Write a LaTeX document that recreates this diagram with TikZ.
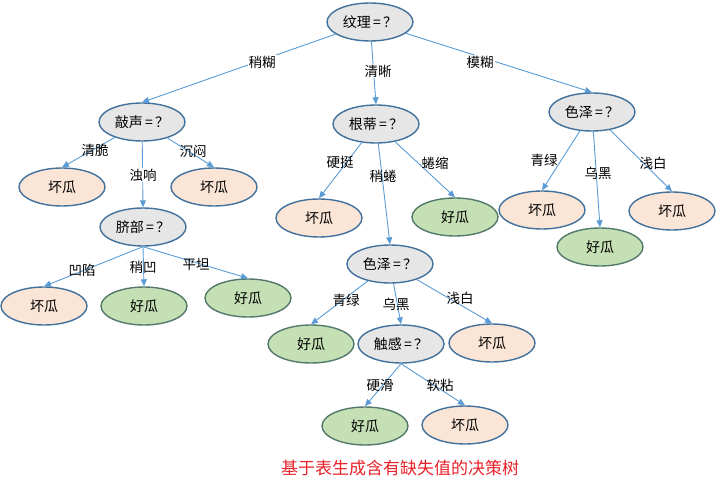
\documentclass[tikz,border=0pt]{standalone}
\usepackage{fontspec}
\setmainfont{Noto Sans CJK SC}
\usetikzlibrary{shapes.geometric,arrows.meta}

\definecolor{askfill}{HTML}{E7E6E6}
\definecolor{askline}{HTML}{41719C}
\definecolor{badfill}{HTML}{FBE5D6}
\definecolor{goodfill}{HTML}{C5E0B4}
\definecolor{goodline}{HTML}{53796C}
\definecolor{edgeblue}{HTML}{5B9BD5}
\definecolor{titlered}{HTML}{E8222A}

\tikzset{
 ask/.style={ellipse,draw=askline,line width=1.4pt,fill=askfill,
   minimum width=86pt,minimum height=38pt,inner sep=0pt,
   font=\fontsize{14}{14}\selectfont},
 bad/.style={ask,fill=badfill},
 good/.style={ask,fill=goodfill,draw=goodline},
 branch/.style={-{Triangle[length=7pt,width=6pt]},draw=edgeblue,line width=0.9pt},
 lbl/.style={font=\fontsize{13.5}{13.5}\selectfont,inner sep=1pt}
}

\begin{document}
\begin{tikzpicture}[x=1pt,y=-1pt]
 \useasboundingbox (0,0) rectangle (720,481);

% \tikzstyle{every node} = [ellipse]
 \node[ask] (wenli) at (370,22) {纹理\,=\,？};
 \node[ask] (qiaosheng) at (142,122) {敲声\,=\,？};
 \node[ask] (gendi) at (376,124) {根蒂\,=\,？};
 \node[ask] (sezeR) at (592,112) {色泽\,=\,？};

 \node[bad] (qingcui) at (62,187) {坏瓜};
 \node[bad] (chenmen) at (214,187) {坏瓜};
 \node[ask] (qibu) at (143,227) {脐部\,=\,？};
 \node[bad] (aoxian) at (44,306) {坏瓜};
 \node[good] (shaoao) at (144,306) {好瓜};
 \node[good] (pingtan) at (248,298) {好瓜};

 \node[bad] (yingting) at (319,218) {坏瓜};
 \node[good] (quansuo) at (455,217) {好瓜};
 \node[ask] (sezeM) at (390,264) {色泽\,=\,？};
 \node[good] (qinglvM) at (311,344) {好瓜};
 \node[ask] (chugan) at (401,344) {触感\,=\,？};
 \node[bad] (qianbaiM) at (492,343) {坏瓜};
 \node[good] (yinghua) at (365,426) {好瓜};
 \node[bad] (ruannian) at (465,425) {坏瓜};

 \node[bad] (qinglvR) at (542,210) {坏瓜};
 \node[good] (wuheiR) at (600,247) {好瓜};
 \node[bad] (qianbaiR) at (672,211) {坏瓜};

 \draw [branch] (wenli) to (qiaosheng.north);
 \draw [branch] (wenli) to (gendi.north);
 \draw [branch] (wenli) to (sezeR.north);

 \draw [branch] (qiaosheng) to (qingcui.north);
 \draw [branch] (qiaosheng) to (qibu.north);
 \draw [branch] (qiaosheng) to (chenmen.north);
 \draw [branch] (qibu.south) to (aoxian.north);
 \draw [branch] (qibu.south) to (shaoao.north);
 \draw [branch] (qibu.south) to (pingtan.north);

 \draw [branch] (gendi) to (yingting.north);
 \draw [branch] (gendi) to (sezeM.north);
 \draw [branch] (gendi) to (quansuo.north);
 \draw [branch] (sezeM) to (qinglvM.north);
 \draw [branch] (sezeM) to (chugan.north);
 \draw [branch] (sezeM) to (qianbaiM.north);
 \draw [branch] (chugan.south) to (yinghua.north);
 \draw [branch] (chugan.south) to (ruannian.north);

 \draw [branch] (sezeR) to (qinglvR.north);
 \draw [branch] (sezeR) to (wuheiR.north);
 \draw [branch] (sezeR) to (qianbaiR.north);

 % branch labels
 \node[lbl,fill=white] (l-shaohu) at (262,62) {稍糊};
 \node[lbl,fill=white] (l-qingxi) at (378,71) {清晰};
 \node[lbl,fill=white] (l-mohu) at (480,62) {模糊};
 \node[lbl] (l-qingcui) at (95,150) {清脆};
 \node[lbl,fill=white] (l-zhuoxiang) at (143,175) {浊响};
 \node[lbl] (l-chenmen) at (193,151) {沉闷};
 \node[lbl] (l-aoxian) at (82,270) {凹陷};
 \node[lbl] (l-shaoao) at (143,267) {稍凹};
 \node[lbl] (l-pingtan) at (196,264) {平坦};
 \node[lbl] (l-yingting) at (340,162) {硬挺};
 \node[lbl] (l-shaoquan) at (383,176) {稍蜷};
 \node[lbl] (l-quansuo) at (435,163) {蜷缩};
 \node[lbl] (l-qinglvR) at (544,160) {青绿};
 \node[lbl] (l-wuheiR) at (598,173) {乌黑};
 \node[lbl] (l-qianbaiR) at (653,163) {浅白};
 \node[lbl] (l-qinglvM) at (346,300) {青绿};
 \node[lbl] (l-wuheiM) at (396,304) {乌黑};
 \node[lbl] (l-qianbaiM) at (460,298) {浅白};
 \node[lbl] (l-yinghua) at (380,385) {硬滑};
 \node[lbl] (l-ruannian) at (440,385) {软粘};

 \node[text=titlered,font=\fontsize{17}{17}\selectfont] (title) at (400,468)
 {基于表生成含有缺失值的决策树};
\end{tikzpicture}
\end{document}
